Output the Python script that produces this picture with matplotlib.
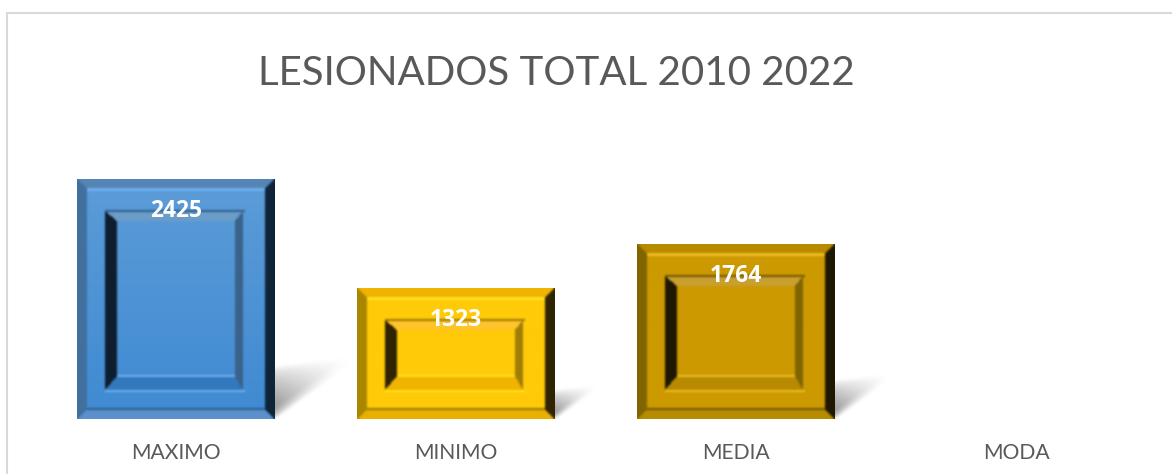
import numpy as np
import matplotlib
matplotlib.use('Agg')
import matplotlib.pyplot as plt
from matplotlib.colors import to_rgb
from matplotlib.patches import Rectangle

# Chart data
categories = ['MAXIMO', 'MINIMO', 'MEDIA', 'MODA']
values = [2425, 1323, 1764, 0]
labels = ['2425', '1323', '1764', '']

# Colours per bar: face top, face bottom, bevel sides in order top, left, right, bottom
face_top = ['#5c9cd8', '#ffca08', '#cc9900']
face_bottom = ['#3f8ad2', '#ffca08', '#cc9900']
outer_bevel = [['#5585b5', '#41709f', '#0f2438', '#5a90cc'],
               ['#f0b400', '#a98500', '#302300', '#e8b000'],
               ['#b88a00', '#806400', '#1f1800', '#b88c00']]
inner_bevel = [['#6c9cc8', '#0e1e2e', '#3a628a', '#3278bc'],
               ['#ffc42a', '#302300', '#a07e05', '#f0b400'],
               ['#c9a030', '#1f1800', '#806400', '#b88a00']]
highlight = ['#70aef0', '#ffe020', '#f0bc20']
edge_dark = ['#2f5f90', '#9a7a00', '#705800']

W, H = 1172, 474
AX_LEFT, AX_RIGHT, AX_TOP, AX_BOTTOM = 36, 1156, 123, 419
YMAX = 3000

plt.rcParams['font.family'] = ['Lato', 'DejaVu Sans']

fig = plt.figure(figsize=(W / 100, H / 100), dpi=100, facecolor='white')
ax = fig.add_axes([AX_LEFT / W, 1 - AX_BOTTOM / H, (AX_RIGHT - AX_LEFT) / W, (AX_BOTTOM - AX_TOP) / H])

# px -> data units
px_x = 4 / (AX_RIGHT - AX_LEFT)
px_y = YMAX / (AX_BOTTOM - AX_TOP)


def blur(img, passes=2):
    # small separable blur so the edges look soft, edges padded so nothing wraps round
    out = img.copy()
    for _ in range(passes):
        for axis in (0, 1):
            before = np.take(out, [0], axis=axis)
            after = np.take(out, [-1], axis=axis)
            padded = np.concatenate([before, out, after], axis=axis)
            prev = np.take(padded, range(0, padded.shape[axis] - 2), axis=axis)
            nxt = np.take(padded, range(2, padded.shape[axis]), axis=axis)
            out = (prev + 2 * out + nxt) / 4
    return out


def paint_strip(img, outer, inner, colors):
    # outer / inner are insets in px: (left, right, top, bottom)
    h, w = img.shape[:2]
    yy, xx = np.mgrid[0:h, 0:w] + 0.5
    dl = xx - outer[0]
    dr = w - outer[1] - xx
    dt = yy - outer[2]
    db = h - outer[3] - yy
    inside_outer = np.minimum.reduce([dl, dr, dt, db]) >= 0
    inside_inner = (xx >= inner[0]) & (xx < w - inner[1]) & (yy >= inner[2]) & (yy < h - inner[3])
    mask = inside_outer & ~inside_inner
    side = np.argmin([dt / (inner[2] - outer[2]), dl / (inner[0] - outer[0]),
                      dr / (inner[1] - outer[1]), db / (inner[3] - outer[3])], axis=0)
    palette = np.array([to_rgb(c) for c in colors])
    img[mask] = palette[side[mask]]


def bevel_image(w, h, i):
    t = np.linspace(0, 1, h)[:, None, None]
    img = np.array(to_rgb(face_top[i])) * (1 - t) + np.array(to_rgb(face_bottom[i])) * t
    img = np.repeat(img, w, axis=1)

    paint_strip(img, (0, 0, 0, 0), (10, 10, 9, 9), outer_bevel[i])
    paint_strip(img, (28, 32, 32, 29), (40, 40, 42, 43), inner_bevel[i])

    # bright and dark lines along the bevel edges
    hi = np.array(to_rgb(highlight[i]))
    dark = np.array(to_rgb(edge_dark[i]))
    img[9:12, 10:w - 10] = hi
    img[h - 29:h - 27, 28:w - 30] = hi
    img[h - 44:h - 42, 40:w - 40] = hi
    img[h - 11:h - 9, 10:w - 10] = dark
    img[31:33, 28:w - 30] = dark
    return blur(img)


def draw_shadow(x1, h):
    # soft wedge running up and to the right of the bar foot
    h_px = h / px_y
    dx, dy = 0.33 * h_px, 0.25 * h_px
    nx, ny = int(dx) + 1, int(dy) + 8
    xx, yy = np.meshgrid(np.linspace(0, 1, nx), np.linspace(0, dy + 7, ny))
    low = dy * 0.95 * xx
    high = 0.22 * h_px + 0.04 * h_px * xx
    across = np.clip((yy - low) / (0.05 * h_px), 0, 1) * np.clip((high - yy) / (0.2 * h_px), 0, 1)
    img = np.zeros((ny, nx, 4))
    img[..., :3] = 0.4
    img[..., 3] = blur(0.72 * (1 - xx) ** 1.1 * across ** 0.6, passes=4)
    ax.imshow(img, origin='lower', aspect='auto', zorder=1, interpolation='bilinear',
              extent=(x1, x1 + dx * px_x, 0, (dy + 7) * px_y))


x = np.arange(len(categories))
bars = ax.bar(x, values, width=198 / 280, color='none', linewidth=0)

for i, rect in enumerate(bars):
    if values[i] <= 0:
        continue
    x0, x1 = rect.get_x(), rect.get_x() + rect.get_width()
    draw_shadow(x1, rect.get_height())
    img = bevel_image(round(rect.get_width() / px_x), round(rect.get_height() / px_y), i)
    ax.imshow(img, aspect='auto', zorder=3, extent=(x0, x1, 0, rect.get_height()), interpolation='nearest')
    ax.annotate(labels[i], (x[i], values[i]), xytext=(0, -31.5 * 0.72), textcoords='offset points',
                ha='center', va='center', color='white', fontsize=16.5, fontweight='bold',
                family=['Open Sans', 'DejaVu Sans'], zorder=6)

ax.set_xlim(-0.5, 3.5)
ax.set_ylim(0, YMAX)
ax.set_xticks(x)
ax.set_xticklabels(categories, fontsize=15.2, color='#595959')
ax.tick_params(axis='x', length=0, pad=17)
ax.set_yticks([])
for s in ax.spines.values():
    s.set_visible(False)
ax.patch.set_alpha(0)

fig.text(258 / W, 1 - 85 / H, 'LESIONADOS TOTAL 2010 2022', fontsize=29, color='#595959', ha='left', va='baseline')

# chart frame, open at the bottom and right of the crop
fig.add_artist(Rectangle((7 / W, -0.02), 1.02, 1.02 - 12.5 / H, transform=fig.transFigure,
                         fc='none', ec='#d9d9d9', lw=1.5))

fig.savefig('out.png', dpi=100)
